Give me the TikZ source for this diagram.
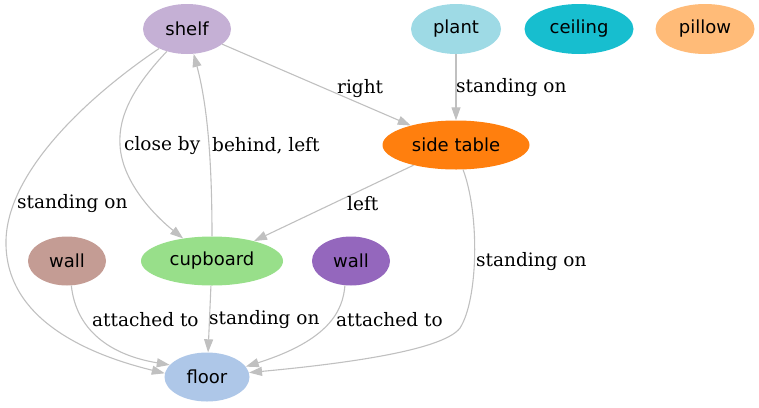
\documentclass[tikz,border=0pt]{standalone}
\usepackage{fontspec}
\usetikzlibrary{shapes.geometric,arrows.meta}
\newfontfamily\nodefont{DejaVu Sans}
\newfontfamily\edgefont{DejaVu Serif}
\definecolor{cshelf}{HTML}{C5B0D5}
\definecolor{cplant}{HTML}{9EDAE5}
\definecolor{cceiling}{HTML}{17BECF}
\definecolor{cpillow}{HTML}{FFBB78}
\definecolor{cside}{HTML}{FF7F0E}
\definecolor{cwallA}{HTML}{C49C94}
\definecolor{ccup}{HTML}{98DF8A}
\definecolor{cwallB}{HTML}{9467BD}
\definecolor{cfloor}{HTML}{AEC7E8}
\definecolor{cedge}{HTML}{C0C0C0}
\tikzset{
  obj/.style={ellipse, inner sep=0pt, minimum height=49pt, text=black,
    font=\nodefont\fontsize{18}{20}\selectfont},
  rel/.style={draw=cedge, line width=1.1pt, -{Triangle[length=13pt,width=9pt]}},
  lbl/.style={anchor=west, inner sep=0pt, text=black,
    font=\edgefont\fontsize{18.5}{21}\selectfont}
}
\begin{document}
\begin{tikzpicture}[x=1pt,y=-1pt]
\useasboundingbox (0,0) rectangle (759,407);
% nodes
\node[obj, fill=cshelf, minimum width=88pt, minimum height=50pt] (shelf) at (187,29) {shelf};
\node[obj, fill=cplant, minimum width=90pt, minimum height=50pt] (plant) at (456,29) {plant};
\node[obj, fill=cceiling, minimum width=109pt, minimum height=50pt] (ceiling) at (579,29) {ceiling};
\node[obj, fill=cpillow, minimum width=99pt, minimum height=50pt] (pillow) at (705,29) {pillow};
\node[obj, fill=cside, minimum width=147pt] (side) at (456,145) {side table};
\node[obj, fill=cwallA, minimum width=78pt] (wallA) at (67,261) {wall};
\node[obj, fill=ccup, minimum width=142pt] (cup) at (212,261) {cupboard};
\node[obj, fill=cwallB, minimum width=78pt] (wallB) at (351,261) {wall};
\node[obj, fill=cfloor, minimum width=85pt] (floor) at (207,377) {floor};
% helper coordinates
\coordinate (sfA) at (6,240);
\coordinate (cbA) at (120,145);
\coordinate (stA) at (460,328);
% edges
\draw[rel] (shelf.215) .. controls (90,95) and (8,170) .. (sfA)
  .. controls (4,320) and (90,355) .. (floor.175);
\draw[rel] (shelf.228) .. controls (135,85) and (118,115) .. (cbA)
  .. controls (122,185) and (160,220) .. (cup.142);
\draw[rel] (cup.north) .. controls (212,150) and (206,100) .. (shelf);
\draw[rel] (shelf) -- (side);
\draw[rel] (plant) -- (side);
\draw[rel] (side) -- (cup);
\draw[rel] (side.286) .. controls (480,215) and (478,300) .. (stA)
  .. controls (442,352) and (330,365) .. (floor.6);
\draw[rel] (wallA.280) .. controls (76,330) and (110,355) .. (floor.162);
\draw[rel] (cup) -- (floor);
\draw[rel] (wallB.256) .. controls (343,310) and (330,340) .. (floor.15);
% labels
\node[lbl] (l1) at (17,203.5) {standing on};
\node[lbl] (l2) at (124,145.5) {close by};
\node[lbl] (l3) at (212,145.5) {behind, left};
\node[lbl] (l4) at (337,88.5) {right};
\node[lbl] (l5) at (456,87.5) {standing on};
\node[lbl] (l6) at (347,203.5) {left};
\node[lbl] (l7) at (476,261.5) {standing on};
\node[lbl] (l8) at (92,319.5) {attached to};
\node[lbl] (l9) at (209,319.5) {standing on};
\node[lbl] (l10) at (336,319.5) {attached to};
\end{tikzpicture}
\end{document}
